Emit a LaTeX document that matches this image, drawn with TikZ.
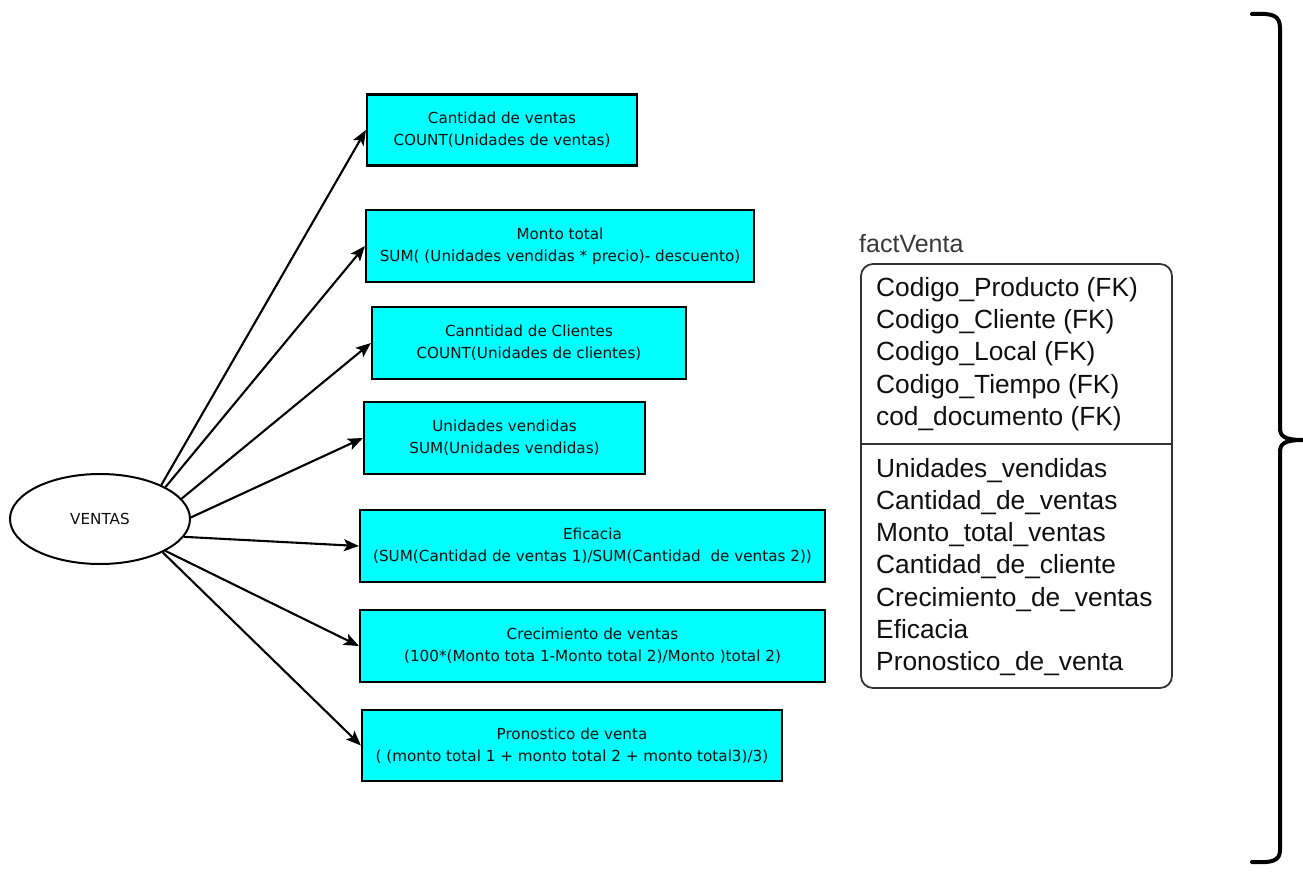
\documentclass[tikz,border=0pt]{standalone}
\usepackage{fontspec}
\setmainfont{DejaVu Sans}
\newfontfamily\arialf{Liberation Sans}
\usetikzlibrary{arrows.meta,shapes.geometric}
\definecolor{boxcyan}{RGB}{0,255,255}
\definecolor{txtdark}{RGB}{15,15,15}
\begin{document}
\begin{tikzpicture}[x=1pt,y=-1pt,
  measure/.style={draw=black, line width=2.2pt, fill=boxcyan, rectangle, align=center,
    inner sep=0pt, text=txtdark, font=\fontsize{15.2}{22}\selectfont},
  conn/.style={line width=2.1pt, -{Stealth[length=15pt,width=12pt,inset=3.5pt]}},
  attr/.style={anchor=west, align=left, inner sep=0pt, text=txtdark,
    font=\arialf\fontsize{26.3}{32.2}\selectfont}]
\useasboundingbox (0,0) rectangle (1303,872);

\node[ellipse, draw, line width=2pt, minimum width=180pt, minimum height=90pt,
  inner sep=0pt, text=txtdark, font=\fontsize{15.2}{20}\selectfont] (v) at (100,519) {VENTAS};

\node[measure, minimum width=270pt, minimum height=71pt] (b1) at (502,130)
  {Cantidad de ventas\\COUNT(Unidades de ventas)};
\node[measure, minimum width=388pt, minimum height=72pt] (b2) at (560,246)
  {Monto total\\SUM( (Unidades vendidas * precio)- descuento)};
\node[measure, minimum width=314pt, minimum height=72pt] (b3) at (529,343)
  {Canntidad de Clientes\\COUNT(Unidades de clientes)};
\node[measure, minimum width=281pt, minimum height=72pt] (b4) at (504.5,438)
  {Unidades vendidas\\SUM(Unidades vendidas)};
\node[measure, minimum width=465pt, minimum height=72pt] (b5) at (592.5,546)
  {Eficacia\\(SUM(Cantidad de ventas 1)/SUM(Cantidad\ \ de ventas 2))};
\node[measure, minimum width=465pt, minimum height=72pt] (b6) at (592.5,646)
  {Crecimiento de ventas\\(100*(Monto tota 1-Monto total 2)/Monto )total 2)};
\node[measure, minimum width=420pt, minimum height=71pt] (b7) at (572,745.5)
  {Pronostico de venta\\( (monto total 1 + monto total 2 + monto total3)/3)};

\draw[conn] (v.29) -- (b1.west);
\draw[conn] (v.26) -- (b2.west);
\draw[conn] (v.14) -- (b3.west);
\draw[conn] (v.1) -- (b4.west);
\draw[conn] (v.-12) -- (b5.west);
\draw[conn] (v.-26) -- (b6.west);
\draw[conn] (v.-28) -- (b7.west);

% fact table
\node[anchor=south west, inner sep=0pt, text=black!78, font=\arialf\fontsize{25}{26}\selectfont]
  (title) at (859,253) {factVenta};
\node[draw=black!80, line width=1.8pt, rounded corners=12pt, minimum width=311pt,
  minimum height=424pt, inner sep=0pt] (tbl) at (1016.5,476) {};
\coordinate (sepl) at (861,444);
\coordinate (sepr) at (1172,444);
\draw[line width=1.8pt, draw=black!80] (sepl) -- (sepr);
\node[attr] (keys) at (876,354)
  {Codigo\_Producto (FK)\\Codigo\_Cliente (FK)\\Codigo\_Local (FK)\\Codigo\_Tiempo (FK)\\cod\_documento (FK)};
\node[attr] (vals) at (876,567)
  {Unidades\_vendidas\\Cantidad\_de\_ventas\\Monto\_total\_ventas\\Cantidad\_de\_cliente\\Crecimiento\_de\_ventas\\Eficacia\\Pronostico\_de\_venta};

% brace
\draw[line width=4pt, line cap=round]
  (1252,14) .. controls (1272,13) and (1280,15) .. (1280,28) -- (1280,428)
  .. controls (1280,436) and (1284,440) .. (1303,440)
  .. controls (1284,440) and (1280,444) .. (1280,452) -- (1280,850)
  .. controls (1280,861) and (1272,863) .. (1252,862);
\end{tikzpicture}
\end{document}
